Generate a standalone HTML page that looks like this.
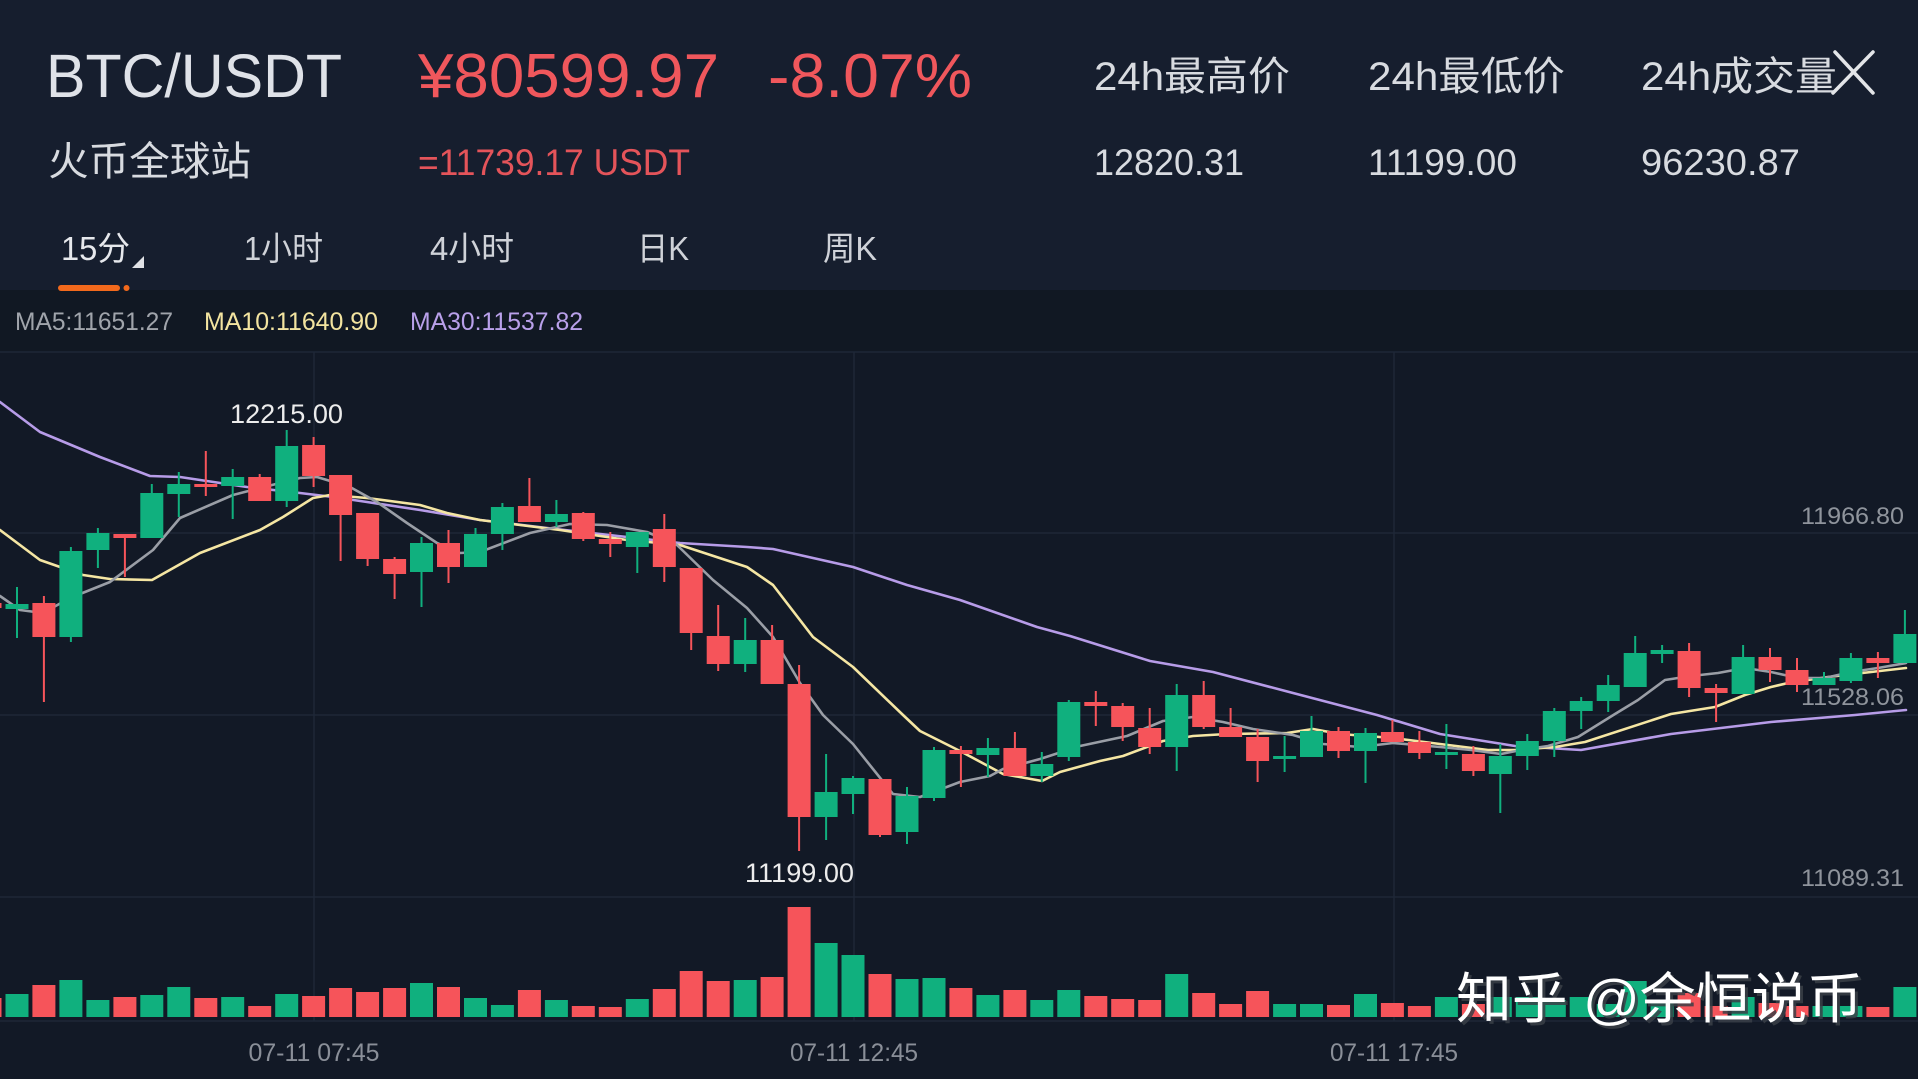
<!DOCTYPE html>
<html>
<head>
<meta charset="utf-8">
<style>
html,body{margin:0;padding:0;background:#121926;}
svg{display:block;}
text{font-family:"Liberation Sans","Noto Sans CJK SC",sans-serif;}
</style>
</head>
<body>
<svg width="1918" height="1079" viewBox="0 0 1918 1079" xmlns="http://www.w3.org/2000/svg">
<rect x="0" y="0" width="1918" height="1079" fill="#121926"/>
<rect x="0" y="0" width="1918" height="290" fill="#161e2e"/>
<rect x="0" y="290" width="1918" height="62" fill="#111823"/>

<!-- header -->
<text x="46" y="97" font-size="61" fill="#dfe2e8" textLength="296" lengthAdjust="spacingAndGlyphs">BTC/USDT</text>
<text x="418" y="97" font-size="62" fill="#f0575c" textLength="301" lengthAdjust="spacingAndGlyphs">¥80599.97</text>
<text x="768" y="97" font-size="62" fill="#f0575c" textLength="204" lengthAdjust="spacingAndGlyphs">-8.07%</text>
<text x="48" y="175" font-size="40" fill="#d8dbe0" textLength="203" lengthAdjust="spacingAndGlyphs">火币全球站</text>
<text x="418" y="175" font-size="37" fill="#e4545a" textLength="272" lengthAdjust="spacingAndGlyphs">=11739.17 USDT</text>

<text x="1094" y="90" font-size="40" fill="#d8dbe0" textLength="196" lengthAdjust="spacingAndGlyphs">24h最高价</text>
<text x="1368" y="90" font-size="40" fill="#d8dbe0" textLength="197" lengthAdjust="spacingAndGlyphs">24h最低价</text>
<text x="1641" y="90" font-size="40" fill="#d8dbe0" textLength="196" lengthAdjust="spacingAndGlyphs">24h成交量</text>
<text x="1094" y="175" font-size="37" fill="#d8dbe0" textLength="150" lengthAdjust="spacingAndGlyphs">12820.31</text>
<text x="1368" y="175" font-size="37" fill="#d8dbe0" textLength="149" lengthAdjust="spacingAndGlyphs">11199.00</text>
<text x="1641" y="175" font-size="37" fill="#d8dbe0" textLength="159" lengthAdjust="spacingAndGlyphs">96230.87</text>
<g stroke="#e3e5e8" stroke-width="3.5" stroke-linecap="round">
<line x1="1835" y1="52" x2="1873" y2="93"/>
<line x1="1873" y1="52" x2="1833" y2="93"/>
</g>

<!-- tabs -->
<text x="61" y="260" font-size="33" fill="#e6e8ec" textLength="69" lengthAdjust="spacingAndGlyphs">15分</text>
<polygon points="144,256 144,268 132,268" fill="#e0e2e6"/>
<text x="244" y="260" font-size="33" fill="#cfd2d8" textLength="79" lengthAdjust="spacingAndGlyphs">1小时</text>
<text x="430" y="260" font-size="33" fill="#cfd2d8" textLength="84" lengthAdjust="spacingAndGlyphs">4小时</text>
<text x="637" y="260" font-size="33" fill="#cfd2d8" textLength="52" lengthAdjust="spacingAndGlyphs">日K</text>
<text x="823" y="260" font-size="33" fill="#cfd2d8" textLength="54" lengthAdjust="spacingAndGlyphs">周K</text>
<rect x="58" y="285" width="62" height="6" rx="3" fill="#f2691c"/>
<circle cx="126.5" cy="288" r="3" fill="#f2691c"/>

<!-- MA row -->
<text x="15" y="330" font-size="25" fill="#a0a4ab" textLength="158" lengthAdjust="spacingAndGlyphs">MA5:11651.27</text>
<text x="204" y="330" font-size="25" fill="#f3e4a0" textLength="174" lengthAdjust="spacingAndGlyphs">MA10:11640.90</text>
<text x="410" y="330" font-size="25" fill="#b9a0ea" textLength="173" lengthAdjust="spacingAndGlyphs">MA30:11537.82</text>

<!-- grid -->
<g stroke="#1e2737" stroke-width="1.5">
<line x1="0" y1="352" x2="1918" y2="352"/>
<line x1="0" y1="533" x2="1918" y2="533"/>
<line x1="0" y1="715" x2="1918" y2="715"/>
<line x1="0" y1="897" x2="1918" y2="897"/>
<line x1="0" y1="1021" x2="1918" y2="1021"/>
<line x1="314" y1="352" x2="314" y2="1021"/>
<line x1="854" y1="352" x2="854" y2="1021"/>
<line x1="1394" y1="352" x2="1394" y2="1021"/>
</g>

<!-- axis labels -->
<g font-size="24.5" fill="#8f949c" text-anchor="end">
<text x="1904" y="524" textLength="103" lengthAdjust="spacingAndGlyphs">11966.80</text>
<text x="1904" y="705" textLength="103" lengthAdjust="spacingAndGlyphs">11528.06</text>
<text x="1904" y="886" textLength="103" lengthAdjust="spacingAndGlyphs">11089.31</text>
</g>

<!-- MA lines -->
<g fill="none" stroke-width="2.6" stroke-linejoin="round" stroke-linecap="round">
<polyline stroke="#b79ce8" points="0,402 40,432 100,457 150,476 180,477 247,487 300,493 333,497 367,502 420,510 480,520 547,528 627,537 680,543 747,547 773,549 813,558 853,567 907,585 960,600 1037,627 1070,636 1150,661 1213,672 1293,693 1377,715 1440,734 1515,746 1581,750 1671,734 1771,722 1855,715 1906,710"/>
<polyline stroke="#f5e6a3" points="0,530 40,560 83,575 110,579 152,580 200,553 260,530 283,517 313,498 330,495 367,498 420,505 447,513 480,520 560,530 627,540 680,545 747,567 773,585 813,637 853,667 903,715 920,731 960,751 1003,774 1042,781 1060,772 1100,761 1123,756 1163,741 1193,736 1227,734 1287,733 1313,729 1340,734 1393,738 1440,744 1488,750 1515,750 1555,747 1585,742 1671,714 1715,707 1745,695 1771,687 1788,683 1828,677 1871,672 1906,668"/>
<polyline stroke="#9a9ea6" points="0,596 20,610 43,613 70,598 110,582 153,550 180,518 233,495 260,488 300,478 317,477 350,487 377,502 407,523 437,543 460,553 480,552 530,533 570,524 607,525 647,532 677,545 713,580 747,608 773,637 800,683 823,715 853,744 893,794 920,797 960,782 990,776 1003,769 1040,759 1080,746 1127,736 1163,721 1193,717 1223,722 1253,729 1293,735 1323,744 1360,747 1393,743 1440,747 1471,750 1501,754 1521,750 1548,746 1578,737 1615,714 1638,700 1665,680 1691,676 1718,673 1745,668 1771,672 1798,678 1825,678 1851,672 1878,668 1906,663"/>
</g>

<!-- red candles -->
<g fill="#f6545a">
<rect x="-11" y="595" width="2" height="20"/><rect x="-21.5" y="603" width="23" height="5"/>
<rect x="42.9" y="596" width="2" height="106"/><rect x="32.4" y="603" width="23" height="34"/>
<rect x="123.9" y="534" width="2" height="43"/><rect x="113.4" y="534" width="23" height="4"/>
<rect x="204.8" y="451" width="2" height="45"/><rect x="194.3" y="484" width="23" height="3"/>
<rect x="258.7" y="474" width="2" height="27"/><rect x="248.2" y="477" width="23" height="24"/>
<rect x="312.6" y="437" width="2" height="50"/><rect x="302.1" y="445" width="23" height="31"/>
<rect x="339.6" y="475" width="2" height="86"/><rect x="329.1" y="475" width="23" height="40"/>
<rect x="366.6" y="513" width="2" height="53"/><rect x="356.1" y="513" width="23" height="46"/>
<rect x="393.6" y="557" width="2" height="42"/><rect x="383.1" y="559" width="23" height="15"/>
<rect x="447.5" y="530" width="2" height="53"/><rect x="437" y="543" width="23" height="24"/>
<rect x="528.4" y="478" width="2" height="44"/><rect x="517.9" y="506" width="23" height="16"/>
<rect x="582.3" y="512" width="2" height="29"/><rect x="571.8" y="513" width="23" height="26"/>
<rect x="609.3" y="532" width="2" height="25"/><rect x="598.8" y="539" width="23" height="5"/>
<rect x="663.3" y="514" width="2" height="68"/><rect x="652.8" y="529" width="23" height="38"/>
<rect x="690.2" y="568" width="2" height="82"/><rect x="679.7" y="568" width="23" height="65"/>
<rect x="717.2" y="605" width="2" height="66"/><rect x="706.7" y="636" width="23" height="28"/>
<rect x="771.1" y="625" width="2" height="59"/><rect x="760.6" y="640" width="23" height="44"/>
<rect x="798.1" y="665" width="2" height="186"/><rect x="787.6" y="684" width="23" height="133"/>
<rect x="879" y="779" width="2" height="58"/><rect x="868.5" y="779" width="23" height="56"/>
<rect x="959.9" y="746" width="2" height="41"/><rect x="949.4" y="750" width="23" height="4"/>
<rect x="1013.9" y="732" width="2" height="44"/><rect x="1003.4" y="748" width="23" height="28"/>
<rect x="1094.8" y="691" width="2" height="35"/><rect x="1084.3" y="702" width="23" height="4"/>
<rect x="1121.7" y="703" width="2" height="38"/><rect x="1111.2" y="706" width="23" height="21"/>
<rect x="1148.7" y="708" width="2" height="46"/><rect x="1138.2" y="728" width="23" height="19"/>
<rect x="1202.7" y="681" width="2" height="48"/><rect x="1192.2" y="695" width="23" height="32"/>
<rect x="1229.6" y="708" width="2" height="29"/><rect x="1219.1" y="727" width="23" height="10"/>
<rect x="1256.6" y="729" width="2" height="53"/><rect x="1246.1" y="737" width="23" height="24"/>
<rect x="1337.5" y="727" width="2" height="31"/><rect x="1327" y="731" width="23" height="20"/>
<rect x="1391.4" y="720" width="2" height="22"/><rect x="1380.9" y="732" width="23" height="10"/>
<rect x="1418.4" y="731" width="2" height="28"/><rect x="1407.9" y="742" width="23" height="11"/>
<rect x="1472.4" y="746" width="2" height="30"/><rect x="1461.9" y="754" width="23" height="17"/>
<rect x="1688.1" y="643" width="2" height="54"/><rect x="1677.6" y="651" width="23" height="37"/>
<rect x="1715.1" y="684" width="2" height="38"/><rect x="1704.6" y="688" width="23" height="5"/>
<rect x="1769" y="648" width="2" height="34"/><rect x="1758.5" y="657" width="23" height="13"/>
<rect x="1796" y="658" width="2" height="34"/><rect x="1785.5" y="670" width="23" height="15"/>
<rect x="1876.9" y="652" width="2" height="26"/><rect x="1866.4" y="658" width="23" height="5"/>
</g>

<!-- green candles -->
<g fill="#10b07e">
<rect x="16" y="587" width="2" height="51"/><rect x="5.5" y="604" width="23" height="5"/>
<rect x="69.9" y="547" width="2" height="95"/><rect x="59.4" y="551" width="23" height="86"/>
<rect x="96.9" y="528" width="2" height="40"/><rect x="86.4" y="533" width="23" height="17"/>
<rect x="150.8" y="484" width="2" height="54"/><rect x="140.3" y="493" width="23" height="45"/>
<rect x="177.8" y="472" width="2" height="45"/><rect x="167.3" y="484" width="23" height="10"/>
<rect x="231.7" y="469" width="2" height="50"/><rect x="221.2" y="477" width="23" height="9"/>
<rect x="285.7" y="430" width="2" height="77"/><rect x="275.2" y="446" width="23" height="55"/>
<rect x="420.5" y="537" width="2" height="70"/><rect x="410" y="543" width="23" height="29"/>
<rect x="474.5" y="528" width="2" height="39"/><rect x="464" y="534" width="23" height="33"/>
<rect x="501.4" y="503" width="2" height="47"/><rect x="490.9" y="507" width="23" height="27"/>
<rect x="555.4" y="500" width="2" height="27"/><rect x="544.9" y="514" width="23" height="8"/>
<rect x="636.3" y="532" width="2" height="41"/><rect x="625.8" y="532" width="23" height="15"/>
<rect x="744.2" y="618" width="2" height="54"/><rect x="733.7" y="640" width="23" height="24"/>
<rect x="825.1" y="754" width="2" height="86"/><rect x="814.6" y="792" width="23" height="25"/>
<rect x="852" y="776" width="2" height="38"/><rect x="841.5" y="778" width="23" height="16"/>
<rect x="906" y="787" width="2" height="57"/><rect x="895.5" y="796" width="23" height="36"/>
<rect x="933" y="747" width="2" height="54"/><rect x="922.5" y="750" width="23" height="48"/>
<rect x="986.9" y="738" width="2" height="39"/><rect x="976.4" y="748" width="23" height="7"/>
<rect x="1040.8" y="752" width="2" height="30"/><rect x="1030.3" y="764" width="23" height="12"/>
<rect x="1067.8" y="700" width="2" height="61"/><rect x="1057.3" y="702" width="23" height="55"/>
<rect x="1175.7" y="684" width="2" height="87"/><rect x="1165.2" y="695" width="23" height="52"/>
<rect x="1283.6" y="736" width="2" height="36"/><rect x="1273.1" y="756" width="23" height="3"/>
<rect x="1310.5" y="716" width="2" height="41"/><rect x="1300" y="731" width="23" height="26"/>
<rect x="1364.5" y="728" width="2" height="55"/><rect x="1354" y="733" width="23" height="18"/>
<rect x="1445.4" y="724" width="2" height="45"/><rect x="1434.9" y="752" width="23" height="3"/>
<rect x="1499.3" y="744" width="2" height="69"/><rect x="1488.8" y="756" width="23" height="18"/>
<rect x="1526.3" y="734" width="2" height="36"/><rect x="1515.8" y="741" width="23" height="15"/>
<rect x="1553.3" y="708" width="2" height="49"/><rect x="1542.8" y="711" width="23" height="30"/>
<rect x="1580.2" y="697" width="2" height="32"/><rect x="1569.7" y="701" width="23" height="10"/>
<rect x="1607.2" y="675" width="2" height="37"/><rect x="1596.7" y="685" width="23" height="16"/>
<rect x="1634.2" y="636" width="2" height="51"/><rect x="1623.7" y="653" width="23" height="34"/>
<rect x="1661.1" y="645" width="2" height="18"/><rect x="1650.6" y="650" width="23" height="4"/>
<rect x="1742.1" y="645" width="2" height="49"/><rect x="1731.6" y="657" width="23" height="37"/>
<rect x="1823" y="672" width="2" height="13"/><rect x="1812.5" y="678" width="23" height="7"/>
<rect x="1849.9" y="653" width="2" height="30"/><rect x="1839.4" y="658" width="23" height="23"/>
<rect x="1903.9" y="610" width="2" height="53"/><rect x="1893.4" y="634" width="23" height="29"/>
</g>

<!-- high/low labels -->
<text x="230" y="423" font-size="27" fill="#ececec" textLength="113" lengthAdjust="spacingAndGlyphs">12215.00</text>
<text x="745" y="882" font-size="27" fill="#ececec" textLength="109" lengthAdjust="spacingAndGlyphs">11199.00</text>

<!-- volume red -->
<g fill="#f6545a">
<rect x="-21.5" y="998" width="23" height="19"/>
<rect x="32.4" y="985" width="23" height="32"/>
<rect x="113.4" y="997" width="23" height="20"/>
<rect x="194.3" y="998" width="23" height="19"/>
<rect x="248.2" y="1006" width="23" height="11"/>
<rect x="302.1" y="996" width="23" height="21"/>
<rect x="329.1" y="988" width="23" height="29"/>
<rect x="356.1" y="992" width="23" height="25"/>
<rect x="383.1" y="988" width="23" height="29"/>
<rect x="437" y="987" width="23" height="30"/>
<rect x="517.9" y="990" width="23" height="27"/>
<rect x="571.8" y="1006" width="23" height="11"/>
<rect x="598.8" y="1007" width="23" height="10"/>
<rect x="652.8" y="989" width="23" height="28"/>
<rect x="679.7" y="971" width="23" height="46"/>
<rect x="706.7" y="981" width="23" height="36"/>
<rect x="760.6" y="977" width="23" height="40"/>
<rect x="787.6" y="907" width="23" height="110"/>
<rect x="868.5" y="974" width="23" height="43"/>
<rect x="949.4" y="988" width="23" height="29"/>
<rect x="1003.4" y="990" width="23" height="27"/>
<rect x="1084.3" y="996" width="23" height="21"/>
<rect x="1111.2" y="999" width="23" height="18"/>
<rect x="1138.2" y="1000" width="23" height="17"/>
<rect x="1192.2" y="993" width="23" height="24"/>
<rect x="1219.1" y="1004" width="23" height="13"/>
<rect x="1246.1" y="991" width="23" height="26"/>
<rect x="1327" y="1005" width="23" height="12"/>
<rect x="1380.9" y="1003" width="23" height="14"/>
<rect x="1407.9" y="1006" width="23" height="11"/>
<rect x="1461.9" y="1004" width="23" height="13"/>
<rect x="1677.6" y="993" width="23" height="24"/>
<rect x="1704.6" y="1006" width="23" height="11"/>
<rect x="1758.5" y="1003" width="23" height="14"/>
<rect x="1785.5" y="1006" width="23" height="11"/>
<rect x="1866.4" y="1007" width="23" height="10"/>
</g>
<!-- volume green -->
<g fill="#10b07e">
<rect x="5.5" y="994" width="23" height="23"/>
<rect x="59.4" y="980" width="23" height="37"/>
<rect x="86.4" y="1000" width="23" height="17"/>
<rect x="140.3" y="995" width="23" height="22"/>
<rect x="167.3" y="987" width="23" height="30"/>
<rect x="221.2" y="997" width="23" height="20"/>
<rect x="275.2" y="994" width="23" height="23"/>
<rect x="410" y="983" width="23" height="34"/>
<rect x="464" y="998" width="23" height="19"/>
<rect x="490.9" y="1005" width="23" height="12"/>
<rect x="544.9" y="1000" width="23" height="17"/>
<rect x="625.8" y="999" width="23" height="18"/>
<rect x="733.7" y="980" width="23" height="37"/>
<rect x="814.6" y="943" width="23" height="74"/>
<rect x="841.5" y="955" width="23" height="62"/>
<rect x="895.5" y="979" width="23" height="38"/>
<rect x="922.5" y="978" width="23" height="39"/>
<rect x="976.4" y="995" width="23" height="22"/>
<rect x="1030.3" y="1000" width="23" height="17"/>
<rect x="1057.3" y="990" width="23" height="27"/>
<rect x="1165.2" y="974" width="23" height="43"/>
<rect x="1273.1" y="1004" width="23" height="13"/>
<rect x="1300" y="1004" width="23" height="13"/>
<rect x="1354" y="994" width="23" height="23"/>
<rect x="1434.9" y="997" width="23" height="20"/>
<rect x="1488.8" y="997" width="23" height="20"/>
<rect x="1515.8" y="997" width="23" height="20"/>
<rect x="1542.8" y="1000" width="23" height="17"/>
<rect x="1569.7" y="997" width="23" height="20"/>
<rect x="1596.7" y="1004" width="23" height="13"/>
<rect x="1623.7" y="981" width="23" height="36"/>
<rect x="1650.6" y="1000" width="23" height="17"/>
<rect x="1731.6" y="997" width="23" height="20"/>
<rect x="1812.5" y="1006" width="23" height="11"/>
<rect x="1839.4" y="1006" width="23" height="11"/>
<rect x="1893.4" y="987" width="23" height="30"/>
</g>

<!-- time labels -->
<g font-size="25" fill="#8a8f98" text-anchor="middle">
<text x="314" y="1061" textLength="131" lengthAdjust="spacingAndGlyphs">07-11 07:45</text>
<text x="854" y="1061" textLength="128" lengthAdjust="spacingAndGlyphs">07-11 12:45</text>
<text x="1394" y="1061" textLength="128" lengthAdjust="spacingAndGlyphs">07-11 17:45</text>
</g>

<!-- watermark -->
<text x="1459" y="1021" font-size="55" fill="#3a3f47" fill-opacity="0.85" textLength="407" lengthAdjust="spacingAndGlyphs">知乎 @余恒说币</text>
<text x="1456" y="1018" font-size="55" fill="#ffffff" textLength="407" lengthAdjust="spacingAndGlyphs">知乎 @余恒说币</text>
</svg>
</body>
</html>
